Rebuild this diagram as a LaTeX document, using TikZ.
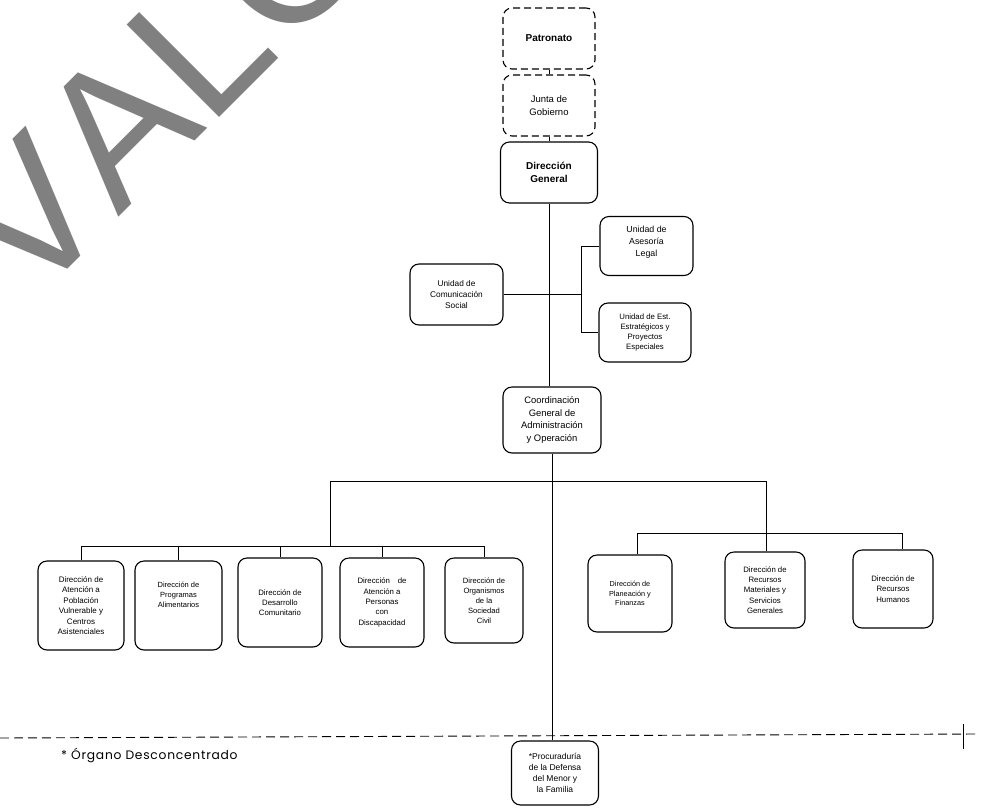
\documentclass[tikz,border=0pt]{standalone}
\usepackage{fontspec}
\setmainfont{Liberation Sans}
\newfontfamily\footfont[LetterSpace=6]{Poppins}
\newfontfamily\wmfont[Kerning=Off]{Liberation Sans}
\newcommand{\fs}[1]{\fontsize{#1}{1.32\dimexpr #1pt\relax}\selectfont}
\begin{document}
\begin{tikzpicture}[x=1pt,y=-1pt,
  box/.style={draw, rounded corners=9pt, line width=1.1pt, align=center, inner sep=1pt},
  dbox/.style={box, dash pattern=on 7pt off 4pt},
  wire/.style={line width=0.75pt},
  sepline/.style={line width=0.9pt, dash pattern=on 9pt off 5pt}]
\useasboundingbox (0,0) rectangle (982,809);
\clip (0,0) rectangle (982,809);
% watermark
\node[rotate=45, anchor=base west, text=black!50, inner sep=0pt,
      font=\wmfont\fontsize{190}{190}\selectfont] (wm) at (29,307.5) {VALO};
% top chain
\node[dbox, minimum width=92pt, minimum height=61pt, font=\fs{10}] (pat) at (549,38.5) {\textbf{Patronato}};
\node[dbox, minimum width=92pt, minimum height=61pt, font=\fs{9.5}] (jun) at (549,105.5) {Junta de\\Gobierno};
\node[box, minimum width=97pt, minimum height=61pt, font=\fs{10}] (dg) at (549,172.5) {\textbf{Dirección}\\\textbf{General}};
\node[box, minimum width=93pt, minimum height=61pt, font=\fs{8.3}] (com) at (456.5,294.5) {Unidad de\\Comunicación\\Social};
\node[box, minimum width=93pt, minimum height=59pt, font=\fs{8.8}] (ase) at (646.5,246) {Unidad de\\Asesoría\\Legal\\[-2pt]};
\node[box, minimum width=92pt, minimum height=59pt, font=\fs{7.8}] (est) at (645,332.5) {Unidad de Est.\\Estratégicos y\\Proyectos\\Especiales};
\node[box, minimum width=98pt, minimum height=66pt, font=\fs{9.4}] (coo) at (552,420) {Coordinación\\General de\\Administración\\y Operación};
% bottom row left
\node[box, minimum width=86pt, minimum height=89pt, font=\fs{8}] (b1) at (81,605.5) {Dirección de\\Atención a\\Población\\Vulnerable y\\Centros\\Asistenciales};
\node[box, minimum width=87pt, minimum height=89pt, font=\fs{7.5}] (b2) at (178.5,605.5) {Dirección de\\Programas\\Alimentarios\\[12pt]};
\node[box, minimum width=84pt, minimum height=89pt, font=\fs{7.8}] (b3) at (280,602.5) {Dirección de\\Desarrollo\\Comunitario};
\node[box, minimum width=84pt, minimum height=89pt, font=\fs{7.8}] (b4) at (382,602.5) {Dirección\quad de\\Atención a\\Personas\\con\\Discapacidad};
\node[box, minimum width=78pt, minimum height=85pt, font=\fs{7.6}] (b5) at (484,600.5) {Dirección de\\Organismos\\de la\\Sociedad\\Civil};
% bottom row right
\node[box, minimum width=84pt, minimum height=77pt, font=\fs{7.3}] (b6) at (630,593.5) {Dirección de\\Planeación y\\Finanzas};
\node[box, minimum width=80pt, minimum height=76pt, font=\fs{7.8}] (b7) at (765,590) {Dirección de\\Recursos\\Materiales y\\Servicios\\Generales};
\node[box, minimum width=80pt, minimum height=78pt, font=\fs{7.8}] (b8) at (893,589) {Dirección de\\Recursos\\Humanos};
% desconcentrado
\node[box, minimum width=87pt, minimum height=64pt, font=\fs{8.5}] (pro) at (555,773) {*Procuraduría\\de la Defensa\\del Menor y\\la Familia};
% connectors top
\draw[wire] (pat.south) -- (jun.north);
\draw[wire] (jun.south) -- (dg.north);
\draw[wire] (dg.south) -- (dg.south |- coo.north);
\coordinate (brk) at (581,294.5);
\draw[wire] (com.east) -- (com.east -| brk);
\draw[wire] (ase.west) -- (ase.west -| brk) -- (est.west -| brk) -- (est.west);
\draw[wire] (coo.south) -- (coo.south |- pro.north);
% main bar
\coordinate (jL) at (330,481);
\coordinate (jR) at (766,481);
\draw[wire] (jL) -- (jR);
\coordinate (lb) at (330,546);
\draw[wire] (jL) -- (lb);
\draw[wire] (b1.north |- lb) -- (b5.north |- lb);
\foreach \b in {b1,b2,b3,b4,b5} \draw[wire] (\b.north |- lb) -- (\b.north);
\coordinate (rb) at (766,533);
\draw[wire] (jR) -- (rb);
\coordinate (d6) at (637,533);
\coordinate (d8) at (902,533);
\draw[wire] (d6) -- (d8);
\draw[wire] (d6) -- (d6 |- b6.north);
\draw[wire] (rb) -- (rb |- b7.north);
\draw[wire] (d8) -- (d8 |- b8.north);
% separator
\coordinate (dl) at (0,738);
\coordinate (dr) at (976,734);
\draw[sepline] (dl) -- (dr);
\coordinate (t1) at (963,724);
\coordinate (t2) at (963,749);
\draw[wire] (t1) -- (t2);
\node[anchor=west, inner sep=0pt, font=\footfont\fontsize{12.3}{14}\selectfont] (fn) at (61,755) {* Órgano Desconcentrado};
\end{tikzpicture}
\end{document}
